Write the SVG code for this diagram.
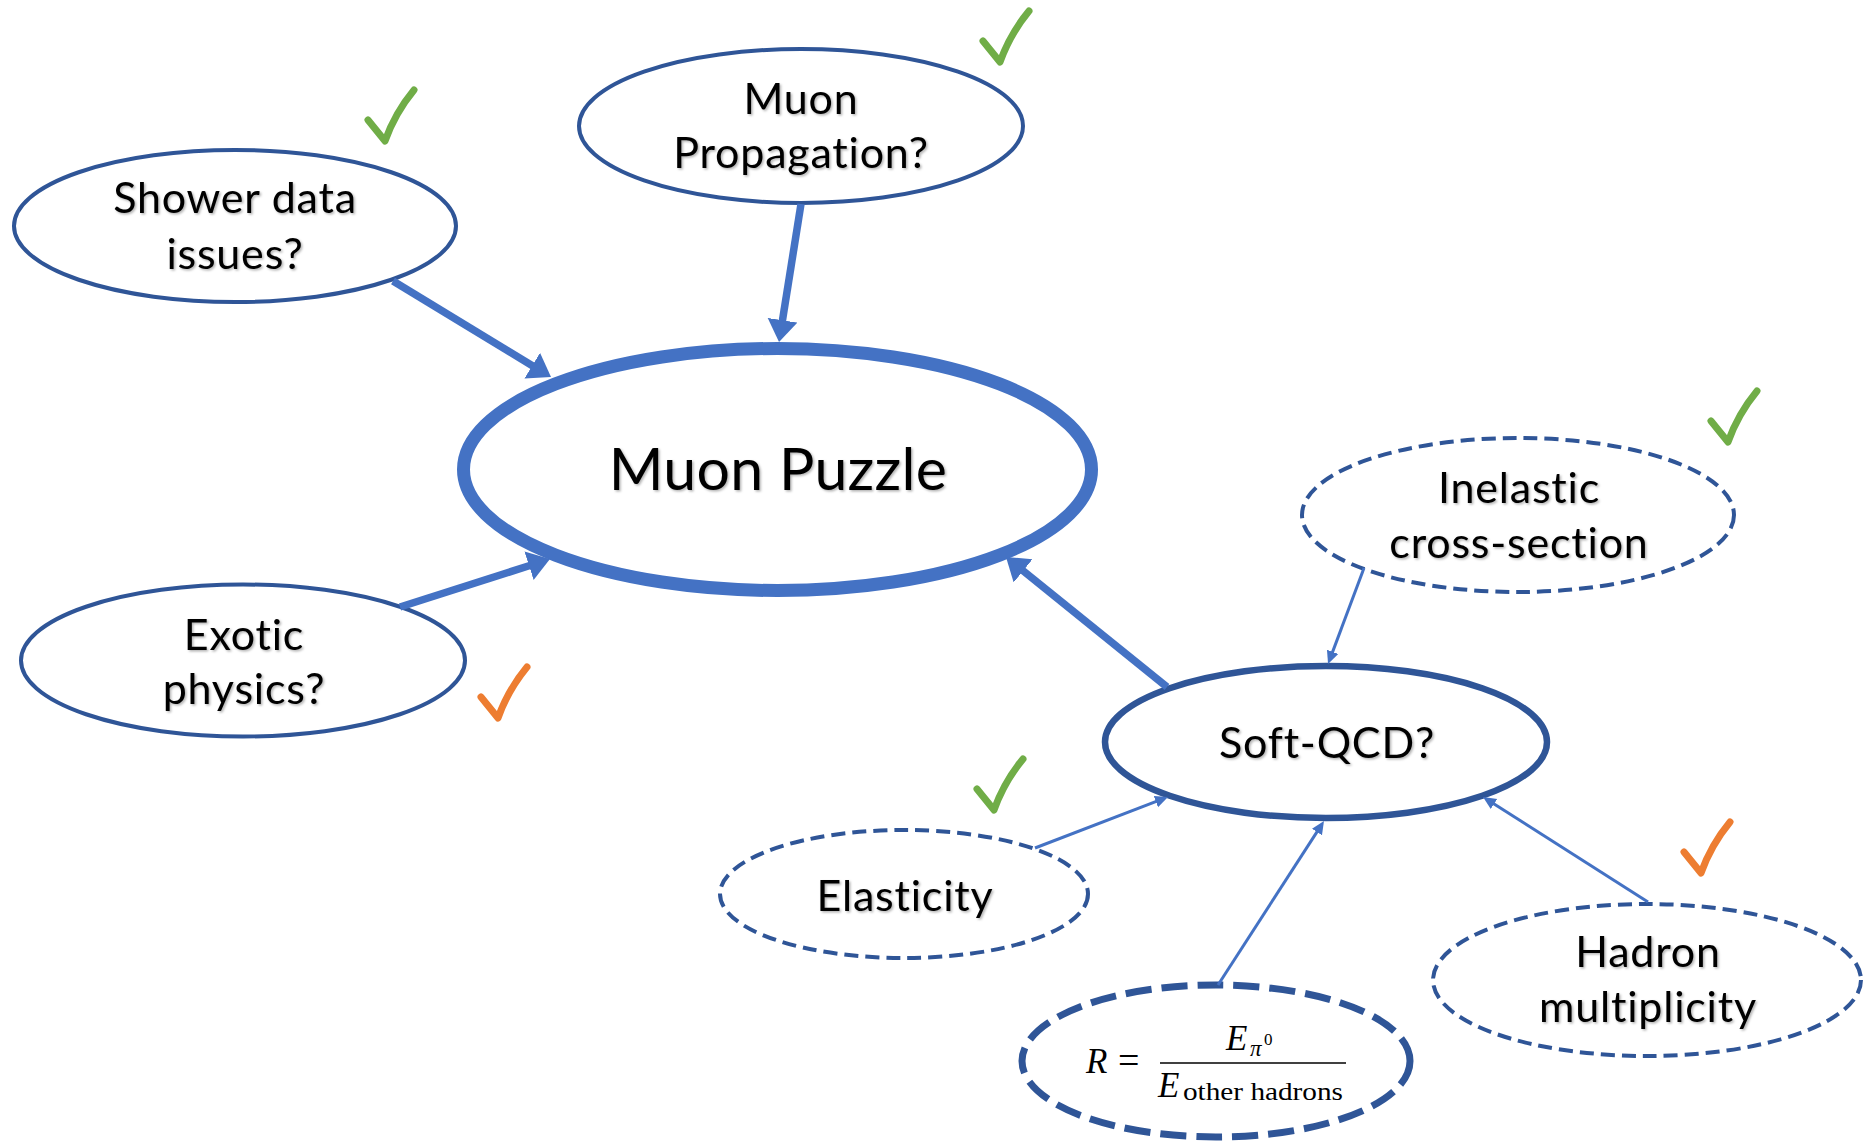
<svg xmlns="http://www.w3.org/2000/svg" xmlns:xlink="http://www.w3.org/1999/xlink" width="1864" height="1143" viewBox="0 0 1864 1143">
<style>
.node{fill:#FFFFFF;stroke:#2F5597;stroke-width:4}
.dash{stroke-dasharray:14 7}
.soft{stroke-width:6.5}
.puzzle{stroke:#4472C4;stroke-width:13}
.rnode{stroke-width:7;stroke-dasharray:26 10}
.lbl{font-family:Lato,"Open Sans","Liberation Sans",sans-serif;font-size:43px;letter-spacing:0.8px;font-variant-ligatures:none;font-feature-settings:"liga" 0;fill:#000000;text-anchor:middle;filter:url(#sh)}
.big{font-size:59px;letter-spacing:0.3px}
.math{font-family:"Liberation Serif","DejaVu Serif",serif;fill:#000000}
.it{font-style:italic}
.thick{fill:none;stroke:#4472C4;stroke-width:7.5;marker-end:url(#ah)}
.thin{fill:none;stroke:#4472C4;stroke-width:3;marker-end:url(#as)}
.check{fill:none;stroke-width:7;stroke-linecap:round;stroke-linejoin:round}
.g{stroke:#70AD47}
.o{stroke:#ED7D31}
</style>
<defs>
<filter id="sh" x="-10%" y="-20%" width="120%" height="150%">
<feDropShadow dx="1.5" dy="1.5" stdDeviation="1" flood-color="#000000" flood-opacity="0.3"/>
</filter>
<marker id="ah" markerUnits="userSpaceOnUse" markerWidth="24" markerHeight="32" refX="5" refY="15" orient="auto">
<path d="M0,0 L22,15 L0,30 Z" fill="#4472C4"/>
</marker>
<marker id="as" markerUnits="userSpaceOnUse" markerWidth="15" markerHeight="14" refX="4" refY="6" orient="auto">
<path d="M0,0 L13,6 L0,12 Z" fill="#4472C4"/>
</marker>
<path id="ck" d="M-17,-21 L0,0 Q10,-28 29,-51"/>
</defs>

<g id="node-shower">
<ellipse class="node" cx="235" cy="226" rx="221" ry="76"/>
<text class="lbl" x="235" y="213">Shower data</text>
<text class="lbl" x="235" y="269">issues?</text>
</g>
<g id="node-propagation">
<ellipse class="node" cx="801" cy="126" rx="222" ry="77"/>
<text class="lbl" x="801" y="114">Muon</text>
<text class="lbl" x="801" y="168">Propagation?</text>
</g>
<g id="node-puzzle">
<ellipse class="node puzzle" cx="777.5" cy="469.5" rx="314" ry="121"/>
<text class="lbl big" x="778" y="490">Muon Puzzle</text>
</g>
<g id="node-exotic">
<ellipse class="node" cx="243" cy="660.5" rx="222" ry="76"/>
<text class="lbl" x="244" y="650">Exotic</text>
<text class="lbl" x="244" y="704">physics?</text>
</g>
<g id="node-inelastic">
<ellipse class="node dash" cx="1518" cy="515" rx="216" ry="77"/>
<text class="lbl" x="1519" y="503">Inelastic</text>
<text class="lbl" x="1519" y="558">cross-section</text>
</g>
<g id="node-softqcd">
<ellipse class="node soft" cx="1326" cy="742" rx="221" ry="76"/>
<text class="lbl" x="1327" y="758">Soft-QCD?</text>
</g>
<g id="node-elasticity">
<ellipse class="node dash" cx="904" cy="894" rx="184" ry="64"/>
<text class="lbl" x="905" y="911">Elasticity</text>
</g>
<g id="node-ratio">
<ellipse class="node rnode" cx="1216" cy="1061" rx="194" ry="76"/>
<text class="math it" x="1086" y="1073" font-size="35">R</text>
<text class="math" x="1118" y="1073" font-size="38">=</text>
<line x1="1160" y1="1063" x2="1346" y2="1063" stroke="#000000" stroke-width="1.5"/>
<text class="math it" x="1226" y="1050" font-size="35">E</text>
<text class="math it" x="1250" y="1056" font-size="23">π</text>
<text class="math" x="1264" y="1045" font-size="17">0</text>
<text class="math it" x="1158" y="1097" font-size="35">E</text>
<text class="math" x="1183" y="1100" font-size="25" textLength="160" lengthAdjust="spacingAndGlyphs">other hadrons</text>
</g>
<g id="node-hadron">
<ellipse class="node dash" cx="1647" cy="980" rx="214" ry="76"/>
<text class="lbl" x="1648" y="967">Hadron</text>
<text class="lbl" x="1648" y="1022">multiplicity</text>
</g>

<g id="checks">
<use xlink:href="#ck" href="#ck" class="check g" transform="translate(385,141)"/>
<use xlink:href="#ck" href="#ck" class="check g" transform="translate(1000,62)"/>
<use xlink:href="#ck" href="#ck" class="check g" transform="translate(1728,442)"/>
<use xlink:href="#ck" href="#ck" class="check g" transform="translate(994,810)"/>
<use xlink:href="#ck" href="#ck" class="check o" transform="translate(498,718)"/>
<use xlink:href="#ck" href="#ck" class="check o" transform="translate(1701,873)"/>
</g>

<g id="connectors">
<line class="thick" x1="393" y1="281" x2="536.5" y2="368.2"/>
<line class="thick" x1="801" y1="204" x2="781.7" y2="325.2"/>
<line class="thick" x1="400" y1="607" x2="533.8" y2="564.2"/>
<line class="thick" x1="1167" y1="687" x2="1019.2" y2="567.7"/>
<line class="thin" x1="1364" y1="568" x2="1331.2" y2="655.6"/>
<line class="thin" x1="1035" y1="848" x2="1159.6" y2="800.2"/>
<line class="thin" x1="1218" y1="985" x2="1319.1" y2="828.6"/>
<line class="thin" x1="1648" y1="902" x2="1490.6" y2="801.8"/>
</g>
</svg>
